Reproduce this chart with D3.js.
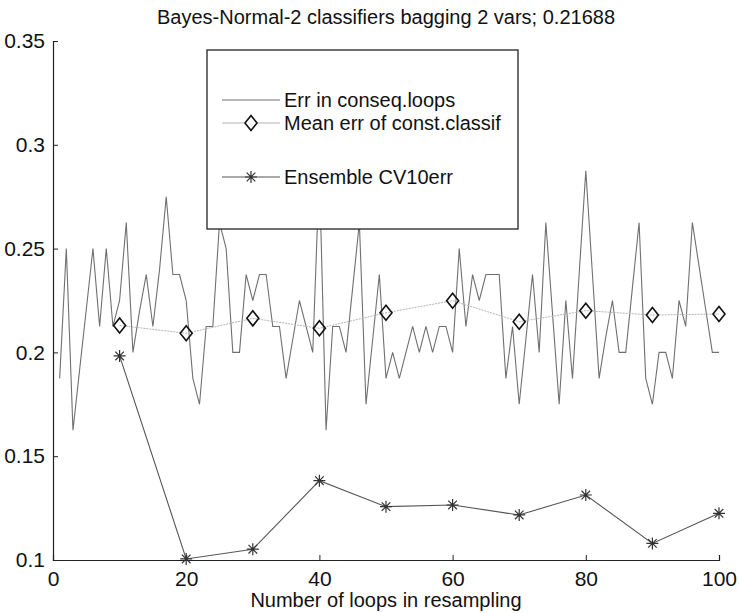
<!DOCTYPE html>
<html>
<head>
<meta charset="utf-8">
<script src="https://cdn.jsdelivr.net/npm/d3@7"></script>
<style>
  body { margin: 0; background: #fff; }
  svg text { font-family: "Liberation Sans", Arial, sans-serif; fill: #111; }
</style>
</head>
<body>
<svg id="chart" width="739" height="613"></svg>
<script>
// error in consecutive loops (1..100)
var errLoops = [
  0.1875, 0.25, 0.1625, 0.1917, 0.2208, 0.25, 0.2125, 0.25, 0.2125, 0.225,
  0.2625, 0.2, 0.22, 0.2375, 0.2125, 0.24, 0.275, 0.2375, 0.2375, 0.225,
  0.1875, 0.175, 0.2125, 0.2125, 0.2625, 0.25, 0.2, 0.2, 0.2375, 0.225,
  0.2375, 0.2375, 0.2125, 0.2125, 0.1875, 0.2062, 0.225, 0.2125, 0.2, 0.2875,
  0.1625, 0.2125, 0.2125, 0.2, 0.2312, 0.2625, 0.175, 0.2062, 0.2375, 0.1875,
  0.2, 0.1875, 0.2, 0.2125, 0.2, 0.2125, 0.2, 0.2125, 0.2125, 0.2,
  0.25, 0.2125, 0.2375, 0.225, 0.2375, 0.2375, 0.2375, 0.1875, 0.2125, 0.175,
  0.2062, 0.2375, 0.2, 0.2625, 0.2188, 0.175, 0.225, 0.1875, 0.2375, 0.2875,
  0.2375, 0.1875, 0.2075, 0.225, 0.2, 0.2, 0.2312, 0.2625, 0.1875, 0.175,
  0.2, 0.2, 0.1875, 0.225, 0.2125, 0.2625, 0.2417, 0.2208, 0.2, 0.2
];
// every 10th loop
var checkLoops = [10, 20, 30, 40, 50, 60, 70, 80, 90, 100];
var meanErr = [0.2130, 0.2092, 0.2164, 0.2116, 0.2191, 0.2249, 0.2148, 0.2201, 0.2180, 0.2185];
var ensembleErr = [0.1983, 0.1005, 0.1052, 0.1382, 0.1257, 0.1265, 0.1217, 0.1313, 0.1080, 0.1225];

var xTicks = [0, 20, 40, 60, 80, 100];
var yTicks = [0.1, 0.15, 0.2, 0.25, 0.3, 0.35];
var legendLabels = ["Err in conseq.loops", "Mean err of const.classif", "Ensemble CV10err"];
var title = "Bayes-Normal-2 classifiers bagging 2 vars; 0.21688";
var xLabel = "Number of loops in resampling";

var svg = d3.select("#chart");

var x = d3.scaleLinear().domain([0, 100]).range([53, 719]);
var y = d3.scaleLinear().domain([0.1, 0.35]).range([560, 41]);

// axes (left + bottom only, ticks inward)
var xAxis = d3.axisBottom(x).tickValues(xTicks).tickSize(-5).tickPadding(11).tickFormat(d3.format("d"));
var yAxis = d3.axisLeft(y).tickValues(yTicks).tickSize(-5).tickPadding(8).tickFormat(function(d) { return String(+d.toFixed(2)); });

var gx = svg.append("g").attr("transform", "translate(0,560)").call(xAxis);
var gy = svg.append("g").attr("transform", "translate(53,0)").call(yAxis);
[gx, gy].forEach(function(g) {
  g.select(".domain").attr("stroke", "#222").attr("stroke-width", 1.2);
  g.selectAll(".tick line").attr("stroke", "#222");
  g.selectAll(".tick text").attr("font-size", 21).attr("fill", "#111")
    .style("font-family", "'Liberation Sans', Arial, sans-serif");
});

// err line
var lineErr = d3.line()
  .x(function(d, i) { return x(i + 1); })
  .y(function(d) { return y(d); });
svg.append("path")
  .datum(errLoops)
  .attr("d", lineErr)
  .attr("fill", "none")
  .attr("stroke", "#707070")
  .attr("stroke-width", 1.1);

// mean error of constituent classifiers
var lineXY = d3.line()
  .x(function(d) { return x(d[0]); })
  .y(function(d) { return y(d[1]); });
var meanPts = checkLoops.map(function(l, i) { return [l, meanErr[i]]; });
var ensPts = checkLoops.map(function(l, i) { return [l, ensembleErr[i]]; });

svg.append("path")
  .datum(meanPts)
  .attr("d", lineXY)
  .attr("fill", "none")
  .attr("stroke", "#b4b4b4")
  .attr("stroke-width", 1)
  .attr("stroke-dasharray", "2,1");

svg.append("path")
  .datum(ensPts)
  .attr("d", lineXY)
  .attr("fill", "none")
  .attr("stroke", "#555")
  .attr("stroke-width", 1.1);

var diamond = "M0,-7.5L6,0L0,7.5L-6,0Z";
var star = "M0,-6V6M-6,0H6M-4.3,-4.3L4.3,4.3M-4.3,4.3L4.3,-4.3";

svg.selectAll(".dia")
  .data(meanPts)
  .enter().append("path")
  .attr("class", "dia")
  .attr("transform", function(d) { return "translate(" + x(d[0]) + "," + y(d[1]) + ")"; })
  .attr("d", diamond)
  .attr("fill", "none")
  .attr("stroke", "#111")
  .attr("stroke-width", 1.6);

svg.selectAll(".star")
  .data(ensPts)
  .enter().append("path")
  .attr("class", "star")
  .attr("transform", function(d) { return "translate(" + x(d[0]) + "," + y(d[1]) + ")"; })
  .attr("d", star)
  .attr("fill", "none")
  .attr("stroke", "#333")
  .attr("stroke-width", 1.2);

// legend
var leg = svg.append("g");
leg.append("rect")
  .attr("x", 207).attr("y", 50).attr("width", 311).attr("height", 179)
  .attr("fill", "#fff").attr("stroke", "#222").attr("stroke-width", 1.3);

var legRows = [100, 123, 177];
var legStroke = ["#707070", "#b4b4b4", "#555"];
legRows.forEach(function(ry, i) {
  leg.append("line")
    .attr("x1", 222).attr("x2", 280).attr("y1", ry).attr("y2", ry)
    .attr("stroke", legStroke[i]).attr("stroke-width", 1.1);
  if (i == 1) {
    leg.append("path").attr("transform", "translate(251," + ry + ")")
      .attr("d", diamond).attr("fill", "#fff").attr("stroke", "#111").attr("stroke-width", 1.6);
  }
  if (i == 2) {
    leg.append("path").attr("transform", "translate(251," + ry + ")")
      .attr("d", star).attr("fill", "none").attr("stroke", "#333").attr("stroke-width", 1.2);
  }
  leg.append("text")
    .attr("x", 284).attr("y", ry + 7)
    .attr("font-size", 20)
    .text(legendLabels[i]);
});

// title + x label
svg.append("text")
  .attr("x", 386).attr("y", 24)
  .attr("text-anchor", "middle")
  .attr("font-size", 20)
  .text(title);

svg.append("text")
  .attr("x", 386).attr("y", 607)
  .attr("text-anchor", "middle")
  .attr("font-size", 20)
  .text(xLabel);
</script>
</body>
</html>
